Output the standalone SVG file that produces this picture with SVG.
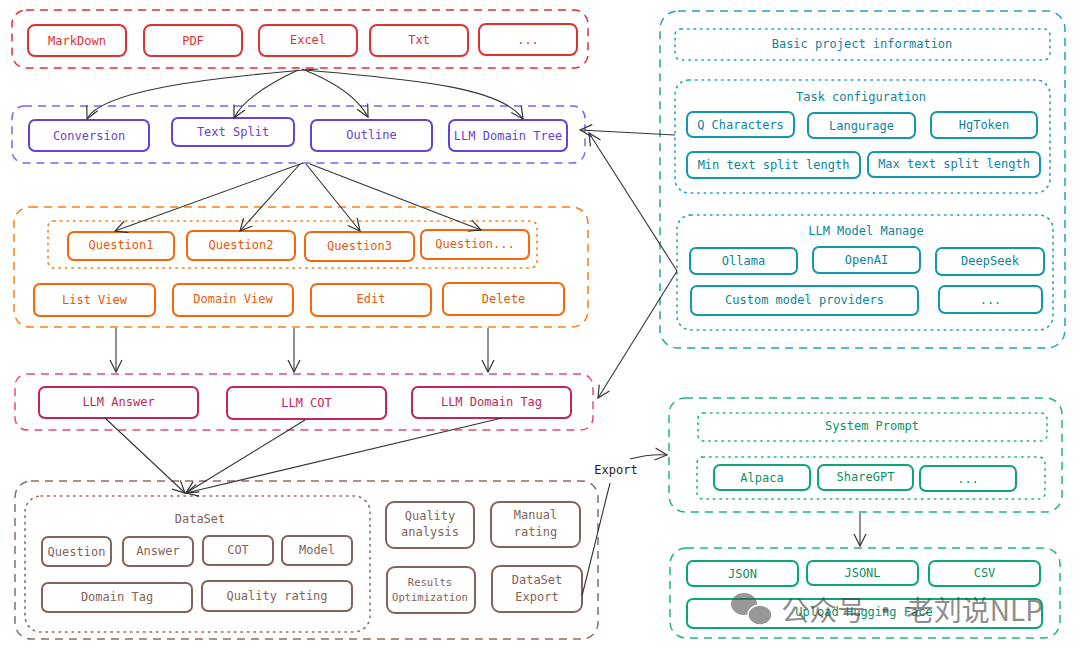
<svg xmlns="http://www.w3.org/2000/svg" width="1080" height="653" viewBox="0 0 1080 653">
<defs>
<marker id="arr" viewBox="0 0 14 14" refX="13" refY="7" markerWidth="14" markerHeight="14" markerUnits="userSpaceOnUse" orient="auto">
<path d="M1,1 L13,7 L1,13" fill="none" stroke="#333" stroke-width="1.2"/>
</marker>
</defs>
<style>
text{font-family:"DejaVu Sans Mono","Liberation Mono",monospace;font-size:12px;text-anchor:middle;dominant-baseline:central}
.grp{fill:none;stroke-width:1.5;stroke-dasharray:8 6}
.dot{fill:none;stroke-width:1.6;stroke-dasharray:1.5 5;stroke-linecap:round}
.n{fill:#fff;stroke-width:2}
.red .n,.red .grp{stroke:#e03131}.red text{fill:#e03131}
.pur .n{stroke:#6741d9}.pur .grp{stroke:#845ef7}.pur text{fill:#6741d9}
.org .n{stroke:#f76707}.org .grp,.org .dot{stroke:#fd7e14}.org text{fill:#e8590c}
.pnk .n{stroke:#c2255c}.pnk .grp{stroke:#e64980}.pnk text{fill:#c2255c}
.brn .n{stroke:#846358}.brn .grp,.brn .dot{stroke:#8c6e63}.brn text{fill:#846358}
.tea .n{stroke:#1098ad}.tea .grp,.tea .dot{stroke:#22a3b8}.tea text{fill:#0c8599}
.grn .n{stroke:#0ca678}.grn .grp,.grn .dot{stroke:#20b486}.grn text{fill:#099268}
.con path{fill:none;stroke:#333;stroke-width:1.1}
</style>
<rect width="1080" height="653" fill="#fff"/>

<g id="sources" class="red">
<rect class="grp" x="12" y="10" width="576" height="58" rx="14"/>
<g id="n-markdown"><rect class="n" x="28" y="25" width="98" height="31" rx="7"/><text x="77" y="40.5">MarkDown</text></g>
<g id="n-pdf"><rect class="n" x="144" y="25" width="98" height="31" rx="7"/><text x="193" y="40.5">PDF</text></g>
<g id="n-excel"><rect class="n" x="259" y="25" width="98" height="31" rx="7"/><text x="308" y="40">Excel</text></g>
<g id="n-txt"><rect class="n" x="370" y="25" width="98" height="31" rx="7"/><text x="419" y="40">Txt</text></g>
<g id="n-more1"><rect class="n" x="479" y="24" width="98" height="31" rx="7"/><text x="528" y="40">...</text></g>
</g>

<g id="processing" class="pur">
<rect class="grp" x="12" y="106" width="573" height="57" rx="12"/>
<g id="n-conversion"><rect class="n" x="29" y="120" width="120" height="31" rx="6"/><text x="89" y="135.5">Conversion</text></g>
<g id="n-textsplit"><rect class="n" x="172" y="118" width="122" height="28" rx="6"/><text x="233" y="132">Text Split</text></g>
<g id="n-outline"><rect class="n" x="311" y="120" width="121" height="31" rx="6"/><text x="371.5" y="135">Outline</text></g>
<g id="n-domaintree"><rect class="n" x="449" y="120" width="118" height="31" rx="6"/><text x="508" y="135.5">LLM Domain Tree</text></g>
</g>

<g id="questions" class="org">
<rect class="grp" x="14" y="207" width="574" height="120" rx="16"/>
<rect class="dot" x="48" y="221" width="489" height="47" rx="6"/>
<g id="n-q1"><rect class="n" x="68" y="232" width="106" height="28" rx="6" stroke-width="1.5"/><text x="121" y="245">Question1</text></g>
<g id="n-q2"><rect class="n" x="187" y="231" width="108" height="29" rx="6" stroke-width="1.5"/><text x="241" y="245">Question2</text></g>
<g id="n-q3"><rect class="n" x="305" y="232" width="109" height="29" rx="6" stroke-width="1.5"/><text x="359.5" y="245.5">Question3</text></g>
<g id="n-qmore"><rect class="n" x="421" y="230" width="108" height="29" rx="6" stroke-width="1.5"/><text x="475" y="244">Question...</text></g>
<g id="n-listview"><rect class="n" x="34" y="284" width="121" height="32" rx="6"/><text x="94.5" y="299.5">List View</text></g>
<g id="n-domainview"><rect class="n" x="173" y="284" width="120" height="32" rx="6"/><text x="233" y="299">Domain View</text></g>
<g id="n-edit"><rect class="n" x="311" y="284" width="120" height="32" rx="6"/><text x="371" y="299">Edit</text></g>
<g id="n-delete"><rect class="n" x="443" y="283" width="121" height="32" rx="6"/><text x="503.5" y="298.5">Delete</text></g>
</g>

<g id="llm" class="pnk">
<rect class="grp" x="15" y="374" width="578" height="56" rx="12"/>
<g id="n-answer"><rect class="n" x="39" y="387" width="159" height="31" rx="6"/><text x="118.5" y="402">LLM Answer</text></g>
<g id="n-cot"><rect class="n" x="227" y="387" width="159" height="32" rx="6"/><text x="306.5" y="402.5">LLM COT</text></g>
<g id="n-domaintag"><rect class="n" x="412" y="387" width="159" height="31" rx="6"/><text x="491.5" y="402">LLM Domain Tag</text></g>
</g>

<g id="dataset" class="brn">
<rect class="grp" x="15" y="481" width="583" height="158" rx="16"/>
<rect class="dot" x="25" y="496" width="345" height="136" rx="16"/>
<text x="200" y="519">DataSet</text>
<g id="n-question"><rect class="n" x="42" y="537" width="69" height="29" rx="6" stroke-width="1.5"/><text x="76.5" y="551.5">Question</text></g>
<g id="n-answer2"><rect class="n" x="123" y="537" width="70" height="29" rx="6" stroke-width="1.5"/><text x="158" y="551">Answer</text></g>
<g id="n-cot2"><rect class="n" x="203" y="536" width="70" height="29" rx="6" stroke-width="1.5"/><text x="238" y="550">COT</text></g>
<g id="n-model"><rect class="n" x="282" y="536" width="70" height="29" rx="6" stroke-width="1.5"/><text x="317" y="550">Model</text></g>
<g id="n-dtag"><rect class="n" x="42" y="583" width="150" height="29" rx="6" stroke-width="1.5"/><text x="117" y="597">Domain Tag</text></g>
<g id="n-qrating"><rect class="n" x="202" y="581" width="150" height="30" rx="6" stroke-width="1.5"/><text x="277" y="596">Quality rating</text></g>
<g id="n-qanalysis"><rect class="n" x="386" y="502" width="88" height="46" rx="8"/><text x="430" y="516">Quality</text><text x="430" y="532">analysis</text></g>
<g id="n-manual"><rect class="n" x="491" y="502" width="89" height="45" rx="8"/><text x="535.5" y="515">Manual</text><text x="535.5" y="532">rating</text></g>
<g id="n-results"><rect class="n" x="387" y="567" width="88" height="46" rx="8"/><text x="430" y="582" style="font-size:10.5px">Results</text><text x="430" y="597" style="font-size:10.5px">Optimization</text></g>
<g id="n-export"><rect class="n" x="492" y="566" width="90" height="46" rx="8"/><text x="537" y="580">DataSet</text><text x="537" y="597">Export</text></g>
</g>

<g id="config" class="tea">
<rect class="grp" x="660" y="11" width="405" height="337" rx="18"/>
<rect class="dot" x="675" y="29" width="375" height="31" rx="6"/>
<text x="862" y="44">Basic project information</text>
<rect class="dot" x="675" y="80" width="375" height="113" rx="14"/>
<text x="861" y="96.5">Task configuration</text>
<g id="n-qchars"><rect class="n" x="687" y="112" width="107" height="25" rx="6" stroke-width="1.5"/><text x="740.5" y="124.5">Q Characters</text></g>
<g id="n-lang"><rect class="n" x="808" y="113" width="107" height="25" rx="6" stroke-width="1.5"/><text x="861.5" y="125.5">Langurage</text></g>
<g id="n-hgtoken"><rect class="n" x="931" y="112" width="106" height="26" rx="6" stroke-width="1.5"/><text x="984" y="125">HgToken</text></g>
<g id="n-minlen"><rect class="n" x="687" y="152" width="173" height="26" rx="6" stroke-width="1.5"/><text x="773.5" y="165">Min text split length</text></g>
<g id="n-maxlen"><rect class="n" x="868" y="152" width="172" height="25" rx="6" stroke-width="1.5"/><text x="954" y="164">Max text split length</text></g>
<rect class="dot" x="677" y="215" width="376" height="115" rx="14"/>
<text x="866" y="231">LLM Model Manage</text>
<g id="n-ollama"><rect class="n" x="690" y="248" width="107" height="26" rx="6" stroke-width="1.5"/><text x="743.5" y="261">Ollama</text></g>
<g id="n-openai"><rect class="n" x="813" y="247" width="107" height="26" rx="6" stroke-width="1.5"/><text x="866.5" y="260">OpenAI</text></g>
<g id="n-deepseek"><rect class="n" x="936" y="248" width="108" height="27" rx="6" stroke-width="1.5"/><text x="990" y="261">DeepSeek</text></g>
<g id="n-custom"><rect class="n" x="691" y="286" width="227" height="29" rx="6" stroke-width="1.5"/><text x="804.5" y="299.5">Custom model providers</text></g>
<g id="n-more2"><rect class="n" x="939" y="286" width="103" height="27" rx="6" stroke-width="1.5"/><text x="990.5" y="299.5">...</text></g>
</g>

<g id="formats" class="grn">
<rect class="grp" x="669" y="398" width="393" height="114" rx="16"/>
<rect class="dot" x="698" y="413" width="349" height="28" rx="6"/>
<text x="872" y="426">System Prompt</text>
<rect class="dot" x="697" y="457" width="348" height="42" rx="6"/>
<g id="n-alpaca"><rect class="n" x="714" y="465" width="96" height="25" rx="6" stroke-width="1.5"/><text x="762" y="477.5">Alpaca</text></g>
<g id="n-sharegpt"><rect class="n" x="818" y="465" width="95" height="25" rx="6" stroke-width="1.5"/><text x="865.5" y="477">ShareGPT</text></g>
<g id="n-more3"><rect class="n" x="920" y="466" width="96" height="25" rx="6" stroke-width="1.5"/><text x="968" y="478.5">...</text></g>
</g>

<g id="outputs" class="grn">
<rect class="grp" x="670" y="548" width="390" height="90" rx="16"/>
<g id="n-json"><rect class="n" x="687" y="561" width="111" height="25" rx="6" stroke-width="1.5"/><text x="742.5" y="573.5">JSON</text></g>
<g id="n-jsonl"><rect class="n" x="807" y="561" width="111" height="24" rx="6" stroke-width="1.5"/><text x="862.5" y="572.5">JSONL</text></g>
<g id="n-csv"><rect class="n" x="929" y="561" width="111" height="25" rx="6" stroke-width="1.5"/><text x="984.5" y="573">CSV</text></g>
<g id="n-upload"><rect class="n" x="687" y="599" width="355" height="29" rx="6" stroke-width="1.5"/><text x="864" y="612">Upload Hugging Face</text></g>
</g>

<g id="connectors" class="con">
<path d="M318,69 C200,78 100,92 87,119" marker-end="url(#arr)"/>
<path d="M298,70 C268,84 243,100 234,118" marker-end="url(#arr)"/>
<path d="M302,69 C335,82 358,98 368,117" marker-end="url(#arr)"/>
<path d="M305,70 C420,80 502,88 523,119" marker-end="url(#arr)"/>
<path d="M303,163 L115,231" marker-end="url(#arr)"/>
<path d="M300,164 L240,231" marker-end="url(#arr)"/>
<path d="M306,164 L360,231" marker-end="url(#arr)"/>
<path d="M310,164 L481,230" marker-end="url(#arr)"/>
<path d="M116,328 L116,372" marker-end="url(#arr)"/>
<path d="M294,328 L294,372" marker-end="url(#arr)"/>
<path d="M488,328 L488,372" marker-end="url(#arr)"/>
<path d="M105,418 L185,493" marker-end="url(#arr)"/>
<path d="M305,420 L186,493" marker-end="url(#arr)"/>
<path d="M502,418 L186,493" marker-end="url(#arr)"/>
<path d="M675,135 L580,130" marker-end="url(#arr)"/>
<path d="M677,271 L589,133" marker-end="url(#arr)"/>
<path d="M677,271 L598,398" marker-end="url(#arr)"/>
<path d="M582,596 L610,483"/>
<path d="M630,459 C645,455 655,454 667,455" marker-end="url(#arr)"/>
<path d="M860,513 L860,546" marker-end="url(#arr)"/>
<text x="616" y="470" style="fill:#1e1e1e;font-size:12px">Export</text>
</g>

<g id="watermark" opacity="0.6">
<ellipse cx="744" cy="604" rx="13" ry="11" fill="#555"/>
<ellipse cx="760" cy="615" rx="12" ry="10" fill="#555" stroke="#fff" stroke-width="1.5"/>
<text x="912" y="609" style="font-family:'Noto Sans CJK SC','Noto Sans',sans-serif;font-size:28px;fill:#444">公众号 · 老刘说NLP</text>
</g>
</svg>
